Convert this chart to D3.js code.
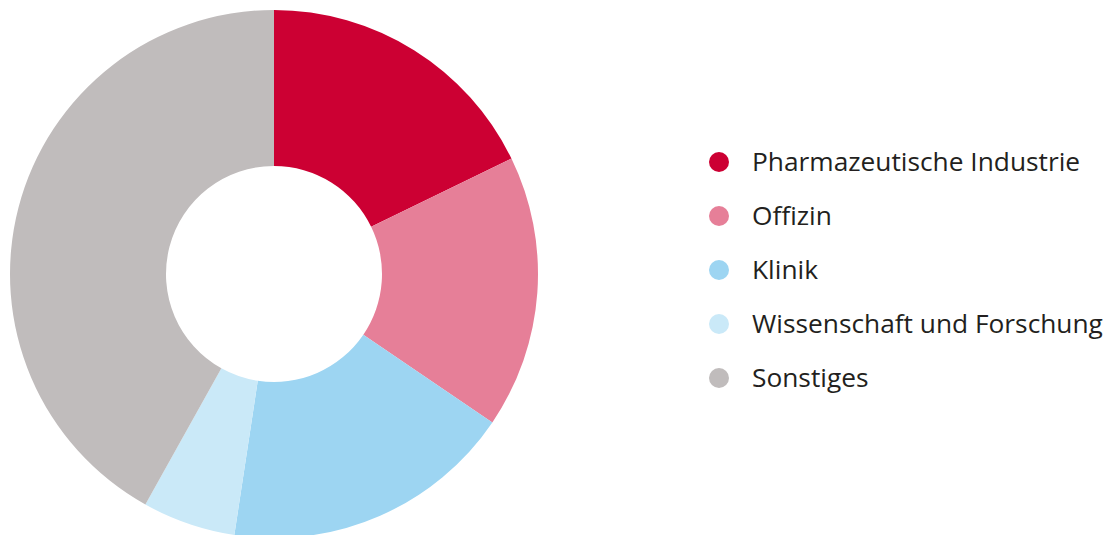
<!DOCTYPE html>
<html lang="de">
<head>
  <meta charset="UTF-8">
  <title>Tätigkeitsbereiche</title>
  <script src="https://d3js.org/d3.v7.min.js"></script>
  <style>
    body { margin: 0; background: #fff; overflow: hidden; }
    svg { display: block; }
    .legend text { font-family: 'Open Sans', sans-serif; font-size: 26.3px; fill: #231f20; }
  </style>
</head>
<body>
<svg width="1110" height="535"></svg>
<script>
const categories = ["Pharmazeutische Industrie", "Offizin", "Klinik", "Wissenschaft und Forschung", "Sonstiges"];
const values = [17.8, 16.7, 17.9, 5.7, 41.9];
const colors = ["#cc0033", "#e67f98", "#9dd5f2", "#cae9f8", "#c0bcbc"];

const svg = d3.select("svg");
const cx = 274, cy = 274, outerR = 264, innerR = 108;

const color = d3.scaleOrdinal().domain(categories).range(colors);

const pie = d3.pie().sort(null).value(d => d.value);
const arc = d3.arc().innerRadius(innerR).outerRadius(outerR);

const data = categories.map((c, i) => ({ name: c, value: values[i] }));

svg.append("g")
  .attr("transform", `translate(${cx},${cy})`)
  .selectAll("path")
  .data(pie(data))
  .join("path")
  .attr("d", arc)
  .attr("fill", d => color(d.data.name));

const y = d3.scalePoint().domain(categories).range([162, 378]);

const legend = svg.append("g").attr("class", "legend")
  .selectAll("g")
  .data(categories)
  .join("g")
  .attr("transform", d => `translate(719,${y(d)})`);

legend.append("circle")
  .attr("r", 10)
  .attr("fill", d => color(d));

legend.append("text")
  .attr("x", 33)
  .attr("dy", "0.35em")
  .text(d => d);
</script>
</body>
</html>
